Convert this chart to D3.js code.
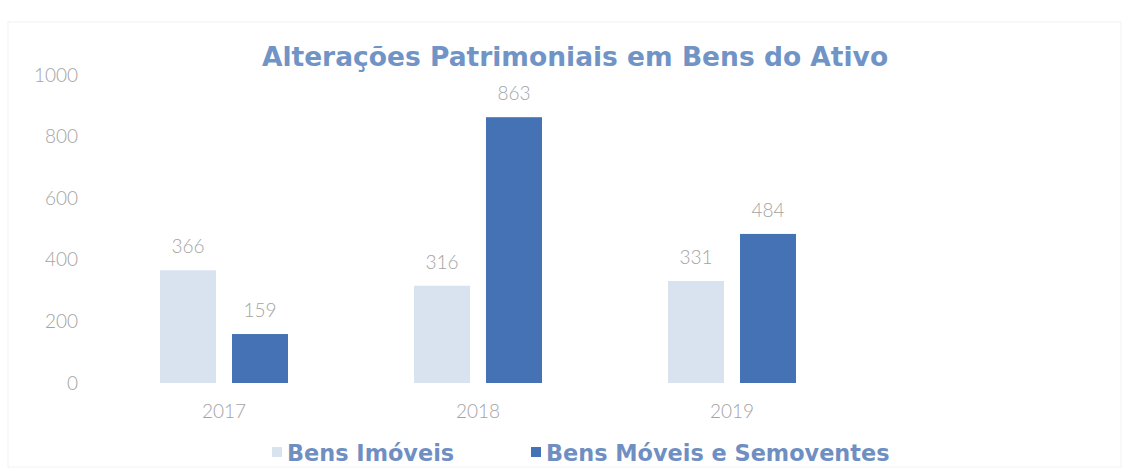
<!DOCTYPE html>
<html>
<head>
<meta charset="utf-8">
<script src="https://cdn.jsdelivr.net/npm/d3@7"></script>
<style>
  body { margin: 0; background: #fff; }
  svg { display: block; }
</style>
</head>
<body>
<div id="container"></div>
<script>
var years = ['2017', '2018', '2019'];
var seriesNames = ['Bens Imóveis', 'Bens Móveis e Semoventes'];
var imoveis = [366, 316, 331];
var moveis = [159, 863, 484];
var yTicks = [0, 200, 400, 600, 800, 1000];

var colors = ['#d9e3ef', '#4472b4'];
var width = 1129, height = 471;

var svg = d3.select('#container').append('svg')
    .attr('width', width)
    .attr('height', height);

// faint frame like the scanned chart border
svg.append('rect')
    .attr('x', 8).attr('y', 22)
    .attr('width', width - 16).attr('height', height - 26)
    .attr('fill', 'none')
    .attr('stroke', '#f2f2f2');

var x = d3.scaleBand().domain(years).range([97, 859]);
var xInner = d3.scaleBand().domain([0, 1]).range([63, 191]).paddingInner(0.222);
var y = d3.scaleLinear().domain([0, 1000]).range([383, 75]);

var lightFont = function(sel) {
  sel.attr('fill', '#a3a3a3')
    .style('font-family', 'Lato, "Open Sans", sans-serif')
    .style('font-size', '19px')
    .style('font-weight', 300);
};

// y axis labels
var yAxis = d3.axisLeft(y).tickValues(yTicks).tickFormat(d3.format('d')).tickSize(0).tickPadding(0);
var yG = svg.append('g').attr('transform', 'translate(78,0)').call(yAxis);
yG.select('.domain').remove();
yG.selectAll('text').call(lightFont);

// x axis labels
var xAxis = d3.axisBottom(x).tickSize(0).tickPadding(0);
var xG = svg.append('g').attr('transform', 'translate(0,404)').call(xAxis);
xG.select('.domain').remove();
xG.selectAll('text').call(lightFont);

var rows = years.map(function(yr, i) {
  return { year: yr, values: [imoveis[i], moveis[i]] };
});

var groups = svg.selectAll('g.grp')
    .data(rows)
    .enter().append('g')
    .attr('class', 'grp')
    .attr('transform', function(d) { return 'translate(' + x(d.year) + ',0)'; });

groups.selectAll('rect')
    .data(function(d) { return d.values; })
    .enter().append('rect')
    .attr('x', function(d, i) { return xInner(i); })
    .attr('width', xInner.bandwidth())
    .attr('y', function(d) { return y(d); })
    .attr('height', function(d) { return y(0) - y(d); })
    .attr('fill', function(d, i) { return colors[i]; });

groups.selectAll('text.val')
    .data(function(d) { return d.values; })
    .enter().append('text')
    .attr('class', 'val')
    .attr('x', function(d, i) { return xInner(i) + xInner.bandwidth() / 2; })
    .attr('y', function(d) { return y(d) - 17; })
    .attr('text-anchor', 'middle')
    .call(lightFont)
    .text(function(d) { return d; });

// title
svg.append('text')
    .attr('x', 575).attr('y', 66)
    .attr('text-anchor', 'middle')
    .attr('fill', '#7094c6')
    .style('font-family', '"DejaVu Sans", Verdana, sans-serif')
    .style('font-weight', 'bold')
    .style('font-size', '26.5px')
    .text('Alterações Patrimoniais em Bens do Ativo');

// legend
var legendX = [272, 531];
var leg = svg.selectAll('g.leg')
    .data(seriesNames)
    .enter().append('g')
    .attr('class', 'leg')
    .attr('transform', function(d, i) { return 'translate(' + legendX[i] + ',453)'; });

leg.append('rect')
    .attr('x', 0).attr('y', -6)
    .attr('width', 10).attr('height', 10)
    .attr('fill', function(d, i) { return colors[i]; });

leg.append('text')
    .attr('x', 15).attr('y', 8)
    .attr('fill', '#6f8fc2')
    .style('font-family', '"DejaVu Sans", Verdana, sans-serif')
    .style('font-weight', 'bold')
    .style('font-size', '22.4px')
    .text(function(d) { return d; });
</script>
</body>
</html>
